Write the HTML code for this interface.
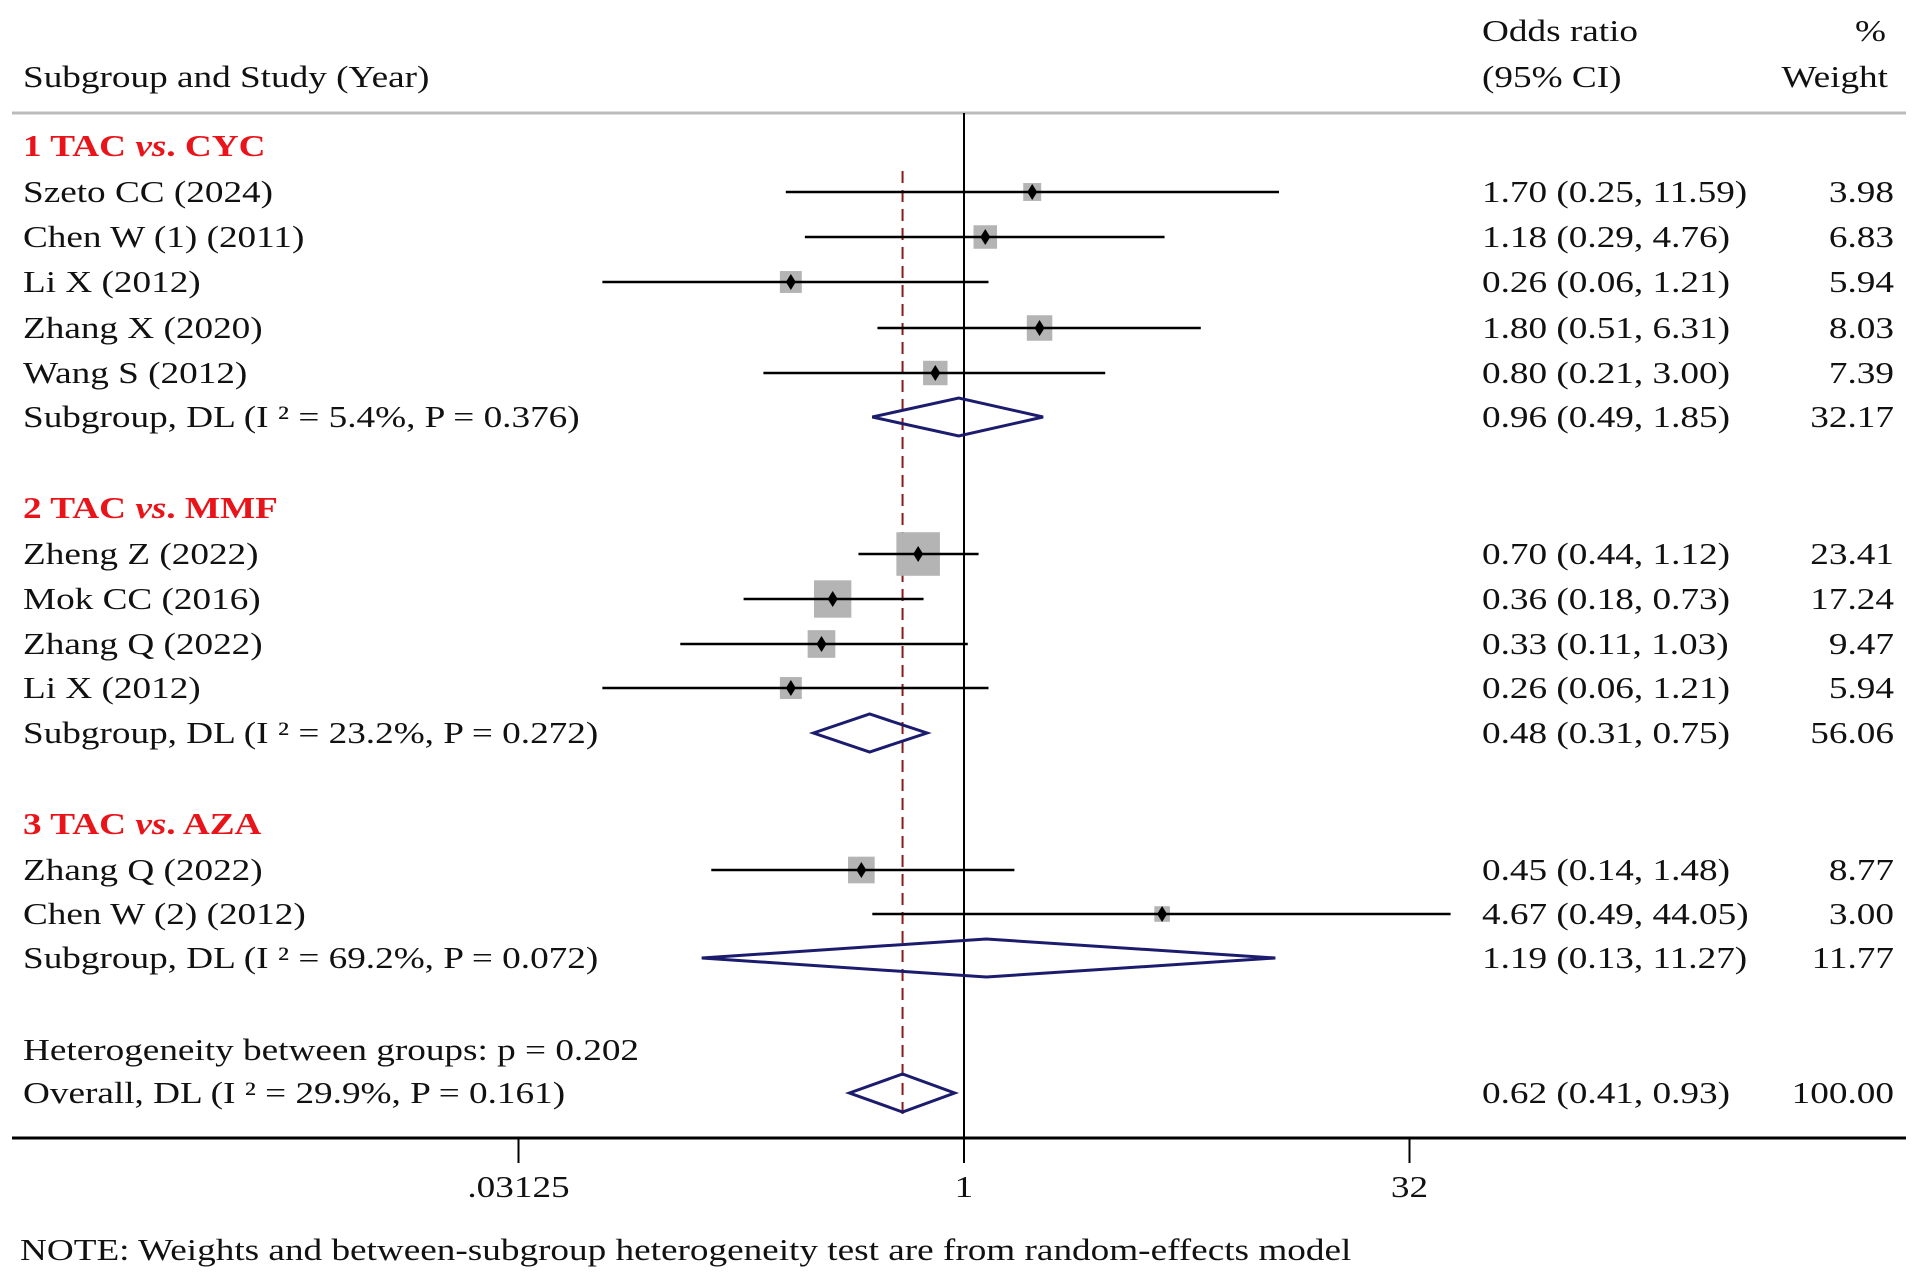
<!DOCTYPE html>
<html><head><meta charset="utf-8"><style>
html,body{margin:0;padding:0;background:#fff}
svg{display:block}
text{font-family:"Liberation Serif",serif;font-size:31px}
</style></head><body>
<svg id="c" width="1913" height="1282" viewBox="0 0 1913 1282"></svg>
<script>
const labels=["Szeto CC (2024)","Chen W (1) (2011)","Li X (2012)","Zhang X (2020)","Wang S (2012)","Subgroup, DL (I ² = 5.4%, P = 0.376)",
"Zheng Z (2022)","Mok CC (2016)","Zhang Q (2022)","Li X (2012)","Subgroup, DL (I ² = 23.2%, P = 0.272)",
"Zhang Q (2022)","Chen W (2) (2012)","Subgroup, DL (I ² = 69.2%, P = 0.072)","Overall, DL (I ² = 29.9%, P = 0.161)"];
const orVals=[1.70,1.18,0.26,1.80,0.80,0.96,0.70,0.36,0.33,0.26,0.48,0.45,4.67,1.19,0.62];
const loVals=[0.25,0.29,0.06,0.51,0.21,0.49,0.44,0.18,0.11,0.06,0.31,0.14,0.49,0.13,0.41];
const hiVals=[11.59,4.76,1.21,6.31,3.00,1.85,1.12,0.73,1.03,1.21,0.75,1.48,44.05,11.27,0.93];
const weights=[3.98,6.83,5.94,8.03,7.39,32.17,23.41,17.24,9.47,5.94,56.06,8.77,3.00,11.77,100.00];
const isPooled=[0,0,0,0,0,1,0,0,0,0,1,0,0,1,1];
const rowY=[192,237,282,328,373,417,554,599,644,688,733,870,914,958,1093];
const groupTitles=["1 TAC ","2 TAC ","3 TAC "],groupDrug=["CYC","MMF","AZA"],groupY=[146,508,824];
const tickVals=[0.03125,1,32],tickLabels=[".03125","1","32"];
const NS="http://www.w3.org/2000/svg",svg=document.getElementById('c');
const K=1.2;
const X=v=>964+89.1*Math.log2(v);
function mk(t,a,p){const e=document.createElementNS(NS,t);for(const k in a)e.setAttribute(k,a[k]);(p||svg).appendChild(e);return e;}
function stretch(e){const w=e.getComputedTextLength();e.setAttribute('textLength',w*K);e.setAttribute('lengthAdjust','spacingAndGlyphs');}
function tx(s,x,y,anchor){const e=mk('text',{x:x,y:y+10,'text-anchor':anchor||'start',fill:'#111'});e.textContent=s;stretch(e);return e;}
let e;
e=tx("Odds ratio",1482,31);
e=tx("(95% CI)",1482,77);
e=tx("%",1886,31,'end');
e=tx("Weight",1888,77,'end');
e=tx("Subgroup and Study (Year)",23,77);
e=mk('line',{x1:12,x2:1906,y1:113,y2:113,stroke:'#bbb','stroke-width':3});
groupTitles.forEach((g,i)=>{const t=mk('text',{x:23,y:groupY[i]+10,fill:'#e8141a','font-weight':'bold'});

t.innerHTML=g+'<tspan font-style="italic">vs</tspan>. '+groupDrug[i];stretch(t);});
e=tx("Heterogeneity between groups: p = 0.202",23,1050);
e=mk('line',{x1:X(1),x2:X(1),y1:113,y2:1138,stroke:'#000','stroke-width':2});
e=mk('line',{x1:X(orVals[14]),x2:X(orVals[14]),y1:171,y2:1114,stroke:'#8b1a1a','stroke-width':2,'stroke-dasharray':'12,7'});
labels.forEach((l,i)=>{const y=rowY[i];
 let t=tx(l,23,y);
 const ci=orVals[i].toFixed(2)+" ("+loVals[i].toFixed(2)+", "+hiVals[i].toFixed(2)+")";
 t=tx(ci,1482,y);
 t=tx(weights[i].toFixed(2),1894,y,'end');
 if(isPooled[i]){const a=X(loVals[i]),b=X(hiVals[i]),m=X(orVals[i]),h=19;
  const d=mk('polygon',{points:`${a},${y} ${m},${y-h} ${b},${y} ${m},${y+h}`,fill:'none',stroke:'#1c1c6e','stroke-width':3});
  
 }else{const s=9*Math.sqrt(weights[i]),m=X(orVals[i]);
  const r=mk('rect',{x:m-s/2,y:y-s/2,width:s,height:s,fill:'#b4b4b4'});
  const ln=mk('line',{x1:X(loVals[i]),x2:X(hiVals[i]),y1:y,y2:y,stroke:'#000','stroke-width':2.5});
  const p=mk('polygon',{points:`${m-5},${y} ${m},${y-8} ${m+5},${y} ${m},${y+8}`,fill:'#000'});}
});
e=mk('line',{x1:12,x2:1906,y1:1138,y2:1138,stroke:'#000','stroke-width':3});
tickVals.forEach((v,i)=>{const t=mk('line',{x1:X(v),x2:X(v),y1:1138,y2:1163,stroke:'#000','stroke-width':2});
 const l=tx(tickLabels[i],X(v),1187,'middle');});
e=tx("NOTE: Weights and between-subgroup heterogeneity test are from random-effects model",20,1250);
</script>
</body></html>
